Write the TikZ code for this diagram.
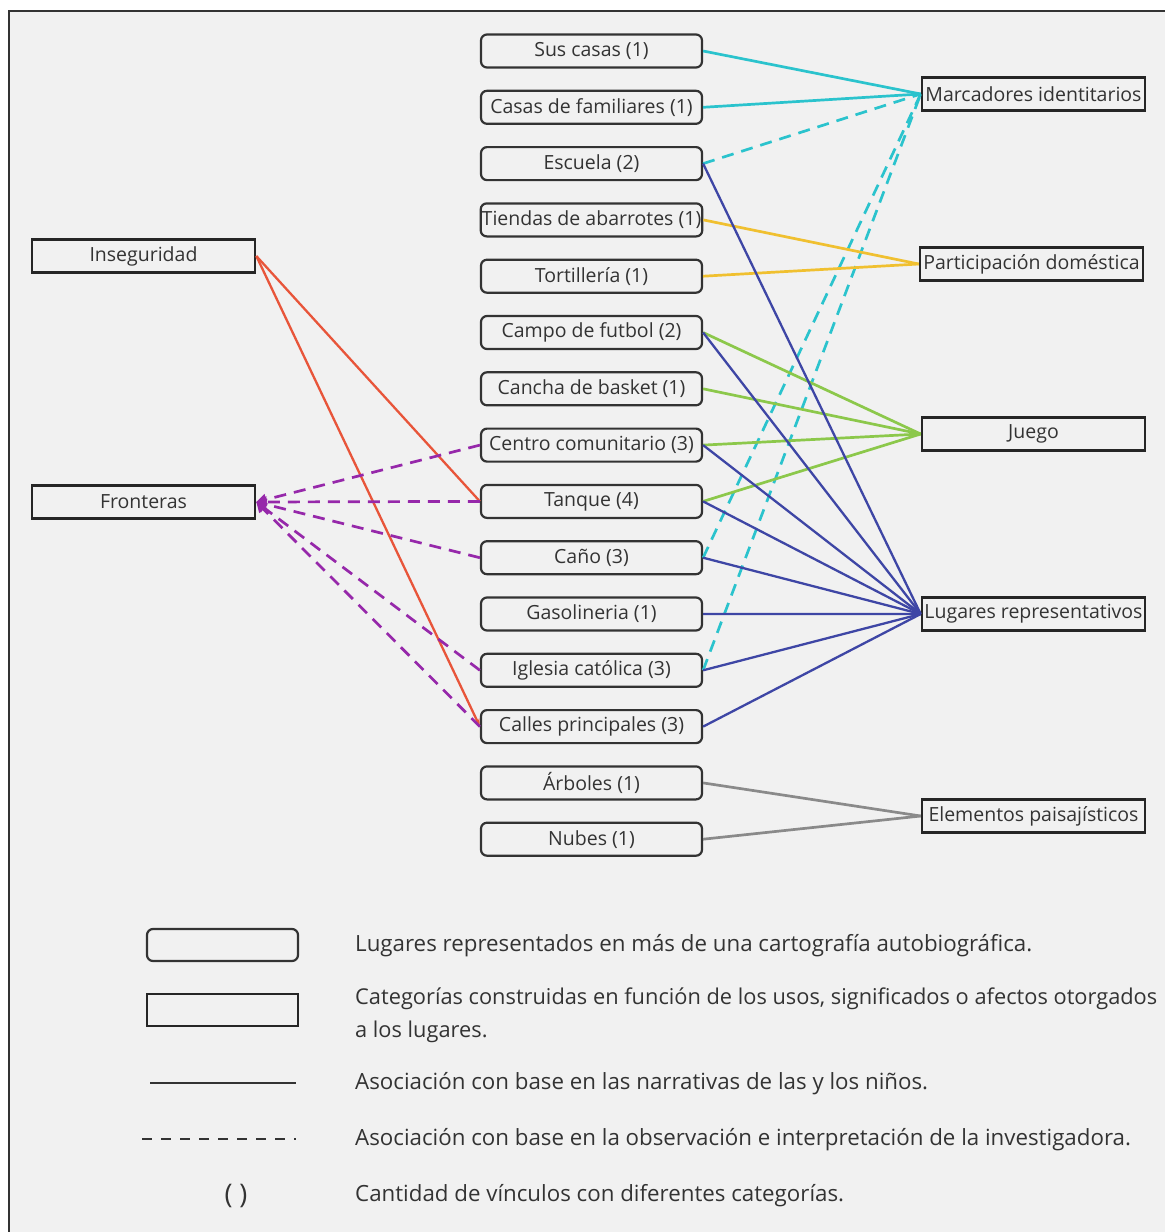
\documentclass[tikz,border=0pt]{standalone}
\usepackage{fontspec}
\setmainfont{Open Sans}
\usetikzlibrary{arrows.meta}

\definecolor{fondo}{RGB}{241,241,241}
\definecolor{tinta}{RGB}{51,51,51}
\definecolor{cian}{RGB}{43,195,205}
\definecolor{amarillo}{RGB}{240,192,48}
\definecolor{verde}{RGB}{140,200,75}
\definecolor{azul}{RGB}{62,70,165}
\definecolor{gris}{RGB}{138,138,138}
\definecolor{rojo}{RGB}{232,85,58}
\definecolor{morado}{RGB}{150,40,170}

\tikzset{
	lugar/.style={draw=tinta, line width=2.2pt, rounded corners=6pt, fill=fondo,
		minimum width=221pt, minimum height=33pt, inner sep=1pt, text=tinta,
		font=\fontsize{19.5}{22}\selectfont},
	categoria/.style={draw=black!85, line width=2.6pt, fill=fondo,
		minimum width=223pt, minimum height=33pt, inner sep=1pt, text=tinta,
		font=\fontsize{19.5}{22}\selectfont},
	enlace/.style={line width=2.7pt},
	observa/.style={enlace, dash pattern=on 12pt off 8pt},
	leyenda/.style={anchor=west, inner sep=0pt, text=tinta, font=\fontsize{22.3}{33}\selectfont},
}

\begin{document}
\begin{tikzpicture}[x=1pt, y=-1pt]
	\useasboundingbox (0, 0) rectangle (1165, 1232);
	% Background and frame.
	\fill[fondo] (9, 11) rectangle (1165, 1232);
	\draw[tinta, line width=2pt] (9, 1232) -- (9, 11) -- (1165, 11);
	% Places (middle column).
	\foreach \nombre/\texto [count=\i from 0] in {casas/Sus casas (1),
		familiares/Casas de familiares (1), escuela/Escuela (2),
		tiendas/Tiendas de abarrotes (1), tortilleria/Tortillería (1),
		campo/Campo de futbol (2), cancha/Cancha de basket (1),
		centro/Centro comunitario (3), tanque/Tanque (4), cano/Caño (3),
		gasolineria/Gasolineria (1), iglesia/Iglesia católica (3),
		calles/Calles principales (3), arboles/Árboles (1), nubes/Nubes (1)} {
		\node[lugar] (\nombre) at (591.5, {51 + 56.3 * \i}) {\texto};
	}
	% Categories.
	\node[categoria] (marcadores) at (1033.5, 94) {Marcadores identitarios};
	\node[categoria] (participacion) at (1031.5, 264) {Participación doméstica};
	\node[categoria] (juego) at (1033.5, 434) {Juego};
	\node[categoria] (representativos) at (1033.5, 614) {Lugares representativos};
	\node[categoria] (paisaje) at (1033.5, 816) {Elementos paisajísticos};
	\node[categoria] (inseguridad) at (143.5, 256) {Inseguridad};
	\node[categoria] (fronteras) at (143.5, 502) {Fronteras};
	% Links to the categories on the right.
	\foreach \a in {casas, familiares}
		\draw[enlace, cian] (\a.east) -- (marcadores.west);
	\foreach \a in {escuela, cano, iglesia}
		\draw[observa, cian] (\a.east) -- (marcadores.west);
	\foreach \a in {tiendas, tortilleria}
		\draw[enlace, amarillo] (\a.east) -- (participacion.west);
	\foreach \a in {campo, cancha, centro, tanque}
		\draw[enlace, verde] (\a.east) -- (juego.west);
	\foreach \a in {escuela, campo, centro, tanque, cano, gasolineria, iglesia, calles}
		\draw[enlace, azul, line width=2.3pt] (\a.east) -- (representativos.west);
	\foreach \a in {arboles, nubes}
		\draw[enlace, gris] (\a.east) -- (paisaje.west);
	% Links to the categories on the left.
	\draw[enlace, rojo, line width=2.3pt] (inseguridad.east) -- (tanque.west);
	\draw[enlace, rojo, line width=2.3pt, -{Stealth[length=8pt, width=6pt]}]
		(inseguridad.east) -- (calles.west);
	\foreach \a in {centro, tanque, cano, iglesia, calles}
		\draw[observa, morado, -{Triangle[length=10pt, width=11pt]}]
			(\a.west) -- (fronteras.east);
	% Legend.
	\node[lugar, minimum width=151pt, minimum height=32pt] (leyLugar) at (222.5, 945) {};
	\node[categoria, minimum width=151pt, minimum height=32pt] (leyCategoria) at (222.5, 1010) {};
	\coordinate (solidoA) at (150, 1083);
	\coordinate (solidoB) at (296, 1083);
	\draw[tinta, line width=2.4pt] (solidoA) -- (solidoB);
	\coordinate (guionA) at (142, 1139);
	\coordinate (guionB) at (296, 1139);
	\draw[tinta, line width=2.4pt, dash pattern=on 10pt off 9pt] (guionA) -- (guionB);
	\node[text=tinta, font=\fontsize{27}{30}\selectfont] (parentesis) at (236, 1196) {( )};
	\node[leyenda] (txtLugar) at (355, 946)
		{Lugares representados en más de una cartografía autobiográfica.};
	\node[leyenda, anchor=north west, align=left, font=\fontsize{21.8}{33}\selectfont]
		(txtCategoria) at (355, 988)
		{Categorías construidas en función de los usos, significados o afectos otorgados\\a los lugares.};
	\node[leyenda] (txtSolido) at (355, 1084)
		{Asociación con base en las narrativas de las y los niños.};
	\node[leyenda] (txtGuion) at (355, 1140)
		{Asociación con base en la observación e interpretación de la investigadora.};
	\node[leyenda] (txtParentesis) at (355, 1196)
		{Cantidad de vínculos con diferentes categorías.};
\end{tikzpicture}
\end{document}
